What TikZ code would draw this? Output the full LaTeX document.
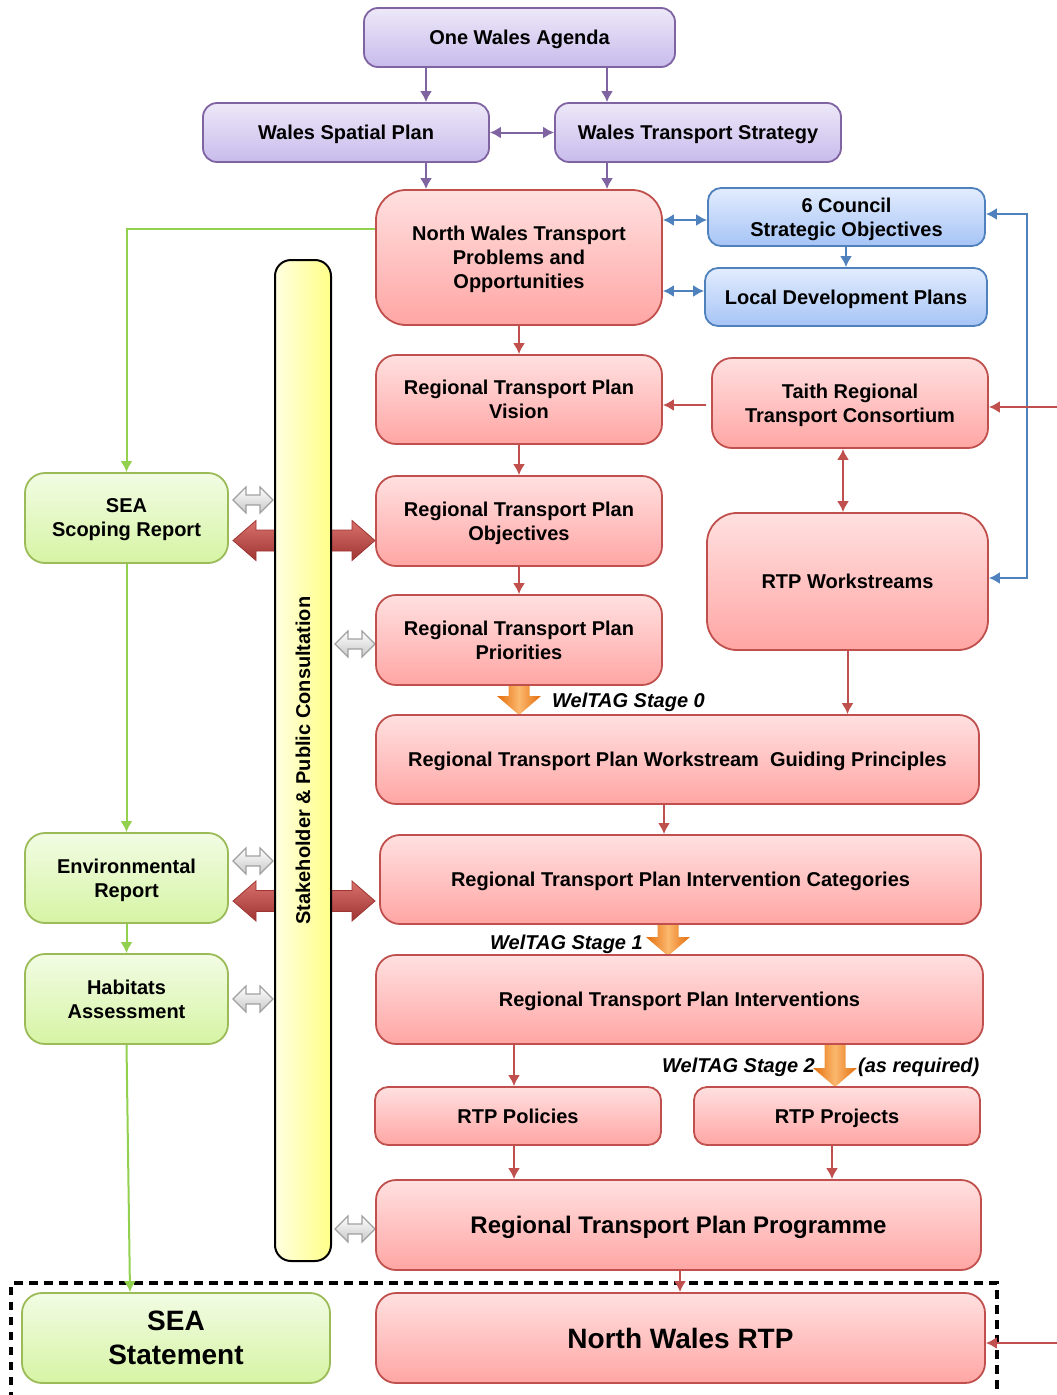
\documentclass[tikz,border=0pt]{standalone}
\usepackage{fontspec}
\setmainfont{Liberation Sans}
\usetikzlibrary{arrows.meta}
\definecolor{rline}{HTML}{C0504D}
\definecolor{rtop}{HTML}{FFE0E0}
\definecolor{rbot}{HTML}{FFA6A4}
\definecolor{gline}{HTML}{9BBB59}
\definecolor{gtop}{HTML}{F2FCE4}
\definecolor{gbot}{HTML}{D6F4A4}
\definecolor{garr}{HTML}{92D050}
\definecolor{bline}{HTML}{4F81BD}
\definecolor{btop}{HTML}{E2ECFD}
\definecolor{bbot}{HTML}{A6C4F6}
\definecolor{pline}{HTML}{8064A2}
\definecolor{ptop}{HTML}{EDE8F8}
\definecolor{pbot}{HTML}{C8BBEC}
\definecolor{orD}{HTML}{E46C0A}
\definecolor{orL}{HTML}{FBB86E}
\definecolor{ylL}{HTML}{FFFFE0}
\definecolor{ylR}{HTML}{FFFF88}
\definecolor{grayD}{HTML}{A0A0A0}
\definecolor{grayF}{HTML}{C8C8C8}
\definecolor{blkL}{HTML}{D8706C}
\definecolor{blkD}{HTML}{9E3532}
\newcommand\dblarr[7]{%
  \path[#7] (#1-#3,#2) -- (#1-#3+#4,#2-#5) -- (#1-#3+#4,#2-#6) -- (#1+#3-#4,#2-#6)
   -- (#1+#3-#4,#2-#5) -- (#1+#3,#2) -- (#1+#3-#4,#2+#5) -- (#1+#3-#4,#2+#6)
   -- (#1-#3+#4,#2+#6) -- (#1-#3+#4,#2+#5) -- cycle;}
\newcommand\downarr[3]{%
  \path[orarr] (#1-10.5,#2) -- (#1+10.5,#2) -- (#1+10.5,#3-19) -- (#1+22,#3-19)
   -- (#1,#3) -- (#1-22,#3-19) -- (#1-10.5,#3-19) -- cycle;}
\tikzset{
  bx/.style={draw, line width=1.8pt, align=center, inner sep=0pt, text=black,
    text depth=-1.5pt, font=\bfseries\fontsize{20}{24}\selectfont},
  redbx/.style={bx, draw=rline, top color=rtop, bottom color=rbot},
  grnbx/.style={bx, draw=gline, top color=gtop, bottom color=gbot},
  blubx/.style={bx, draw=bline, top color=btop, bottom color=bbot},
  purbx/.style={bx, draw=pline, top color=ptop, bottom color=pbot},
  tip/.tip={Latex[length=11pt,width=12pt]},
  conn/.style={line width=2pt, -tip},
  both/.style={tip-tip},
  rarr/.style={conn, draw=rline},
  parr/.style={conn, draw=pline},
  barr/.style={conn, draw=bline},
  garrow/.style={conn, draw=garr},
  orarr/.style={left color=orD, right color=orD, middle color=orL},
  grayarr/.style={draw=grayD, line width=1.2pt, top color=white, bottom color=grayF},
  redarr/.style={draw=blkD, line width=0.8pt, top color=blkL, bottom color=blkD},
  lbl/.style={inner sep=0pt, text=black, font=\bfseries\itshape\fontsize{20}{24}\selectfont},
}
\begin{document}
\begin{tikzpicture}[x=1pt,y=-1pt]
\useasboundingbox (0,0) rectangle (1057,1395);

% block arrows behind the bar
\dblarr{304}{540.5}{71}{23}{20}{10.5}{redarr}
\dblarr{304}{901}{71}{23}{20}{10.5}{redarr}

% consultation bar
\node[draw=black, line width=2pt, rounded corners=16, left color=ylL, right color=ylR,
      minimum width=56, minimum height=1001, inner sep=0pt] (bar) at (303,760.5) {};
\node[rotate=90, inner sep=0pt, font=\bfseries\fontsize{20}{24}\selectfont] (barlbl) at (bar.center) {Stakeholder \& Public Consultation};

% gray double arrows
\dblarr{253}{500}{20}{13}{13}{5}{grayarr}
\dblarr{253}{861}{20}{13}{13}{5}{grayarr}
\dblarr{253}{999}{20}{13}{13}{5}{grayarr}
\dblarr{355}{644}{20}{13}{13}{5}{grayarr}
\dblarr{355}{1229}{20}{13}{13}{5}{grayarr}

% orange arrows
\downarr{519}{683}{715}
\downarr{668}{922}{956}
\downarr{835}{1042}{1087}

% purple
\node[purbx, rounded corners=14, minimum width=311, minimum height=59] (owa) at (519.5,37.5) {One Wales Agenda};
\node[purbx, rounded corners=14, minimum width=286, minimum height=59] (wsp) at (346,132.5) {Wales Spatial Plan};
\node[purbx, rounded corners=14, minimum width=286, minimum height=59] (wts) at (698,132.5) {Wales Transport Strategy};

% main column
\node[redbx, rounded corners=30, minimum width=286, minimum height=135] (nwt) at (519,257.5) {North Wales Transport\\Problems and\\Opportunities};
\node[blubx, rounded corners=13, minimum width=277, minimum height=58] (cso) at (846.5,217) {6 Council\\Strategic Objectives};
\node[blubx, rounded corners=13, minimum width=282, minimum height=58] (ldp) at (846,297) {Local Development Plans};
\node[redbx, rounded corners=20, minimum width=286, minimum height=89] (vis) at (519,399.5) {Regional Transport Plan\\Vision};
\node[redbx, rounded corners=20, minimum width=276, minimum height=90] (taith) at (850,403) {Taith Regional\\Transport Consortium};
\node[redbx, rounded corners=20, minimum width=286, minimum height=90] (obj) at (519,521) {Regional Transport Plan\\Objectives};
\node[redbx, rounded corners=30, minimum width=281, minimum height=137] (wks) at (847.5,581.5) {RTP Workstreams};
\node[redbx, rounded corners=20, minimum width=286, minimum height=90] (pri) at (519,640) {Regional Transport Plan\\Priorities};
\node[redbx, rounded corners=20, minimum width=603, minimum height=89] (gp) at (677.5,759.5) {Regional Transport Plan Workstream\ \ Guiding Principles};
\node[redbx, rounded corners=20, minimum width=601, minimum height=89] (ic) at (680.5,879.5) {Regional Transport Plan Intervention Categories};
\node[redbx, rounded corners=20, minimum width=607, minimum height=89] (int) at (679.5,999.5) {Regional Transport Plan Interventions};
\node[redbx, rounded corners=13, minimum width=286, minimum height=58] (pol) at (518,1116) {RTP Policies};
\node[redbx, rounded corners=13, minimum width=286, minimum height=58] (proj) at (837,1116) {RTP Projects};
\node[redbx, rounded corners=20, minimum width=605, minimum height=90, font=\bfseries\fontsize{24}{28}\selectfont] (prog) at (678.5,1225) {Regional Transport Plan Programme};
\node[redbx, rounded corners=20, minimum width=609, minimum height=90, font=\bfseries\fontsize{28}{34}\selectfont] (nwrtp) at (680.5,1338) {North Wales RTP};

% green column
\node[grnbx, rounded corners=20, minimum width=203, minimum height=90] (scop) at (126.5,518) {SEA\\Scoping Report};
\node[grnbx, rounded corners=20, minimum width=203, minimum height=90] (env) at (126.5,878) {Environmental\\Report};
\node[grnbx, rounded corners=20, minimum width=203, minimum height=90] (hab) at (126.5,999) {Habitats\\Assessment};
\node[grnbx, rounded corners=20, minimum width=308, minimum height=90, font=\bfseries\fontsize{28}{34}\selectfont] (seas) at (176,1338) {SEA\\Statement};

% WelTAG labels
\node[lbl, anchor=west] (w0) at (552,702) {WelTAG Stage 0};
\node[lbl, anchor=east] (w1) at (643,944) {WelTAG Stage 1};
\node[lbl, anchor=east] (w2) at (815,1067) {WelTAG Stage 2};
\node[lbl, anchor=west] (w2b) at (858,1067) {(as required)};

% dashed frame
\draw[black, line width=3.5pt, dash pattern=on 8.5pt off 6.5pt] (11,1400) -- (11,1283) -- (997,1283) -- (997,1400);

% purple connectors
\draw[parr] (owa.south -| 426,0) -- (wsp.north -| 426,0);
\draw[parr] (owa.south -| 607,0) -- (wts.north -| 607,0);
\draw[parr, both] (wsp.east) -- (wts.west);
\draw[parr] (wsp.south -| 426,0) -- (nwt.north -| 426,0);
\draw[parr] (wts.south -| 607,0) -- (nwt.north -| 607,0);

% blue connectors
\draw[barr, both] (nwt.east |- 0,220) -- (cso.west |- 0,220);
\draw[barr, both] (nwt.east |- 0,291) -- (ldp.west |- 0,291);
\draw[barr] (cso.south -| 846,0) -- (ldp.north -| 846,0);
\coordinate (bluev) at (1027,400);
\draw[barr, both] (cso.east |- 0,214) -| (bluev) |- (wks.east |- 0,578);

% red connectors
\coordinate (rin1) at (1057,407);
\coordinate (rin2) at (1057,1343);
\draw[rarr] (rin1) -- (taith.east |- rin1);
\draw[rarr, shorten <=5pt] (taith.west |- 0,405) -- (vis.east |- 0,405);
\draw[rarr, both] (taith.south -| 843,0) -- (wks.north -| 843,0);
\draw[rarr] (nwt.south) -- (vis.north);
\draw[rarr] (vis.south) -- (obj.north);
\draw[rarr] (obj.south) -- (pri.north);
\draw[rarr] (wks.south) -- (gp.north -| wks.south);
\draw[rarr] (gp.south -| 664,0) -- (ic.north -| 664,0);
\draw[rarr] (int.south -| 514,0) -- (pol.north -| 514,0);
\draw[rarr] (pol.south -| 514,0) -- (prog.north -| 514,0);
\draw[rarr] (proj.south -| 832,0) -- (prog.north -| 832,0);
\draw[rarr] (prog.south -| 680,0) -- (nwrtp.north -| 680,0);
\draw[rarr] (rin2) -- (nwrtp.east |- rin2);

% green connectors
\draw[garrow] (nwt.west |- 0,229) -| (scop.north);
\draw[garrow] (scop.south) -- (env.north);
\draw[garrow] (env.south) -- (hab.north);
\draw[garrow] (hab.south) -- (seas.north -| 130,0);
\end{tikzpicture}
\end{document}
